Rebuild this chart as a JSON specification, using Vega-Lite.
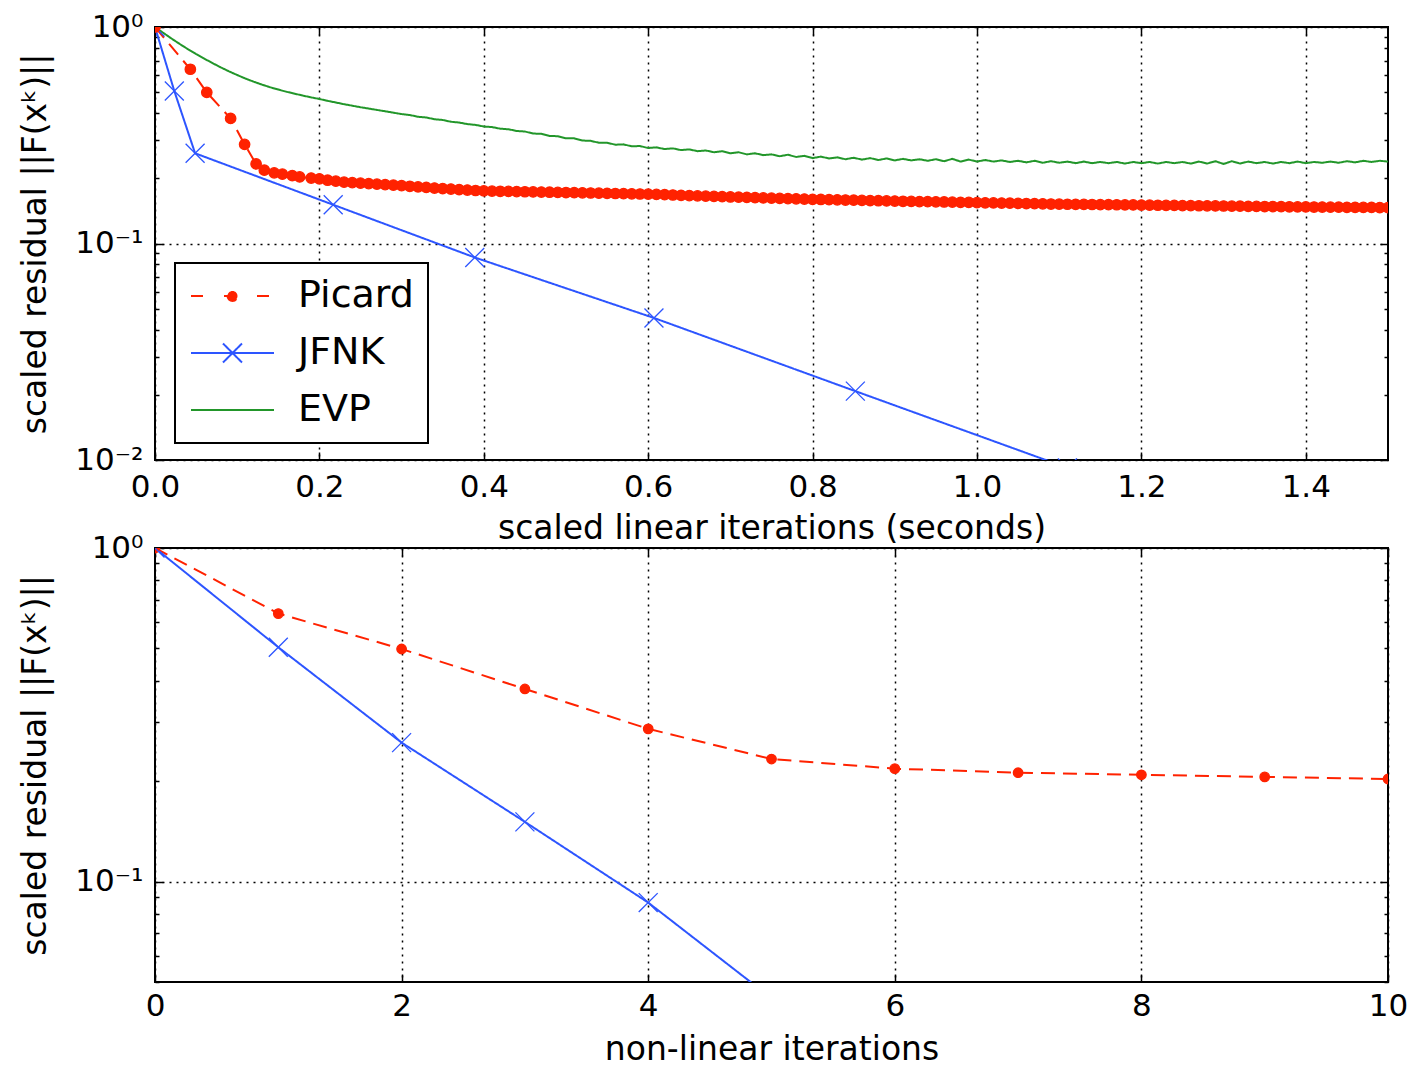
{
"$schema": "https://vega.github.io/schema/vega-lite/v6.json",
"padding": {"left": 18, "top": 10, "right": 2, "bottom": 2},
"background": "white",
"config": {
  "font": "DejaVu Sans",
  "view": {"stroke": "black", "strokeWidth": 2},
  "axis": {"domain": false, "labelColor": "black", "labelFontSize": 31, "labelFont": "DejaVu Sans", "titleFont": "DejaVu Sans", "titleFontSize": 33, "titleFontWeight": "normal", "titleColor": "black", "tickColor": "black", "tickWidth": 1.5, "gridColor": "black", "gridDash": [2, 5], "gridWidth": 1.5, "labelOverlap": false, "labelFlush": false}
},
"datasets": {
"top": [
{"s":"EVP","x":0,"y":1},{"s":"EVP","x":0.01,"y":0.94},{"s":"EVP","x":0.02,"y":0.885},{"s":"EVP","x":0.03,"y":0.835},{"s":"EVP","x":0.04,"y":0.79},{"s":"EVP","x":0.05,"y":0.75},{"s":"EVP","x":0.06,"y":0.714},{"s":"EVP","x":0.07,"y":0.681},{"s":"EVP","x":0.08,"y":0.651},{"s":"EVP","x":0.09,"y":0.624},
{"s":"EVP","x":0.1,"y":0.6},{"s":"EVP","x":0.11,"y":0.578},{"s":"EVP","x":0.12,"y":0.559},{"s":"EVP","x":0.13,"y":0.542},{"s":"EVP","x":0.14,"y":0.527},{"s":"EVP","x":0.15,"y":0.514},{"s":"EVP","x":0.16,"y":0.502},{"s":"EVP","x":0.17,"y":0.492},{"s":"EVP","x":0.18,"y":0.482},{"s":"EVP","x":0.19,"y":0.473},
{"s":"EVP","x":0.2,"y":0.465},{"s":"EVP","x":0.21,"y":0.456},{"s":"EVP","x":0.22,"y":0.448},{"s":"EVP","x":0.23,"y":0.44},{"s":"EVP","x":0.24,"y":0.433},{"s":"EVP","x":0.25,"y":0.426},{"s":"EVP","x":0.26,"y":0.42},{"s":"EVP","x":0.27,"y":0.414},{"s":"EVP","x":0.28,"y":0.408},{"s":"EVP","x":0.29,"y":0.402},
{"s":"EVP","x":0.3,"y":0.396},{"s":"EVP","x":0.31,"y":0.392},{"s":"EVP","x":0.32,"y":0.385},{"s":"EVP","x":0.33,"y":0.382},{"s":"EVP","x":0.34,"y":0.375},{"s":"EVP","x":0.35,"y":0.372},{"s":"EVP","x":0.36,"y":0.365},{"s":"EVP","x":0.37,"y":0.362},{"s":"EVP","x":0.38,"y":0.356},{"s":"EVP","x":0.39,"y":0.353},
{"s":"EVP","x":0.4,"y":0.347},{"s":"EVP","x":0.41,"y":0.345},{"s":"EVP","x":0.42,"y":0.339},{"s":"EVP","x":0.43,"y":0.337},{"s":"EVP","x":0.44,"y":0.331},{"s":"EVP","x":0.45,"y":0.329},{"s":"EVP","x":0.46,"y":0.322},{"s":"EVP","x":0.47,"y":0.321},{"s":"EVP","x":0.48,"y":0.314},{"s":"EVP","x":0.49,"y":0.313},
{"s":"EVP","x":0.5,"y":0.306},{"s":"EVP","x":0.51,"y":0.306},{"s":"EVP","x":0.52,"y":0.299},{"s":"EVP","x":0.53,"y":0.298},{"s":"EVP","x":0.54,"y":0.292},{"s":"EVP","x":0.55,"y":0.292},{"s":"EVP","x":0.56,"y":0.286},{"s":"EVP","x":0.57,"y":0.287},{"s":"EVP","x":0.58,"y":0.281},{"s":"EVP","x":0.59,"y":0.282},
{"s":"EVP","x":0.6,"y":0.276},{"s":"EVP","x":0.61,"y":0.278},{"s":"EVP","x":0.62,"y":0.273},{"s":"EVP","x":0.63,"y":0.275},{"s":"EVP","x":0.64,"y":0.27},{"s":"EVP","x":0.65,"y":0.272},{"s":"EVP","x":0.66,"y":0.267},{"s":"EVP","x":0.67,"y":0.269},{"s":"EVP","x":0.68,"y":0.264},{"s":"EVP","x":0.69,"y":0.267},
{"s":"EVP","x":0.7,"y":0.261},{"s":"EVP","x":0.71,"y":0.264},{"s":"EVP","x":0.72,"y":0.258},{"s":"EVP","x":0.73,"y":0.261},{"s":"EVP","x":0.74,"y":0.256},{"s":"EVP","x":0.75,"y":0.258},{"s":"EVP","x":0.76,"y":0.253},{"s":"EVP","x":0.77,"y":0.257},{"s":"EVP","x":0.78,"y":0.251},{"s":"EVP","x":0.79,"y":0.254},
{"s":"EVP","x":0.8,"y":0.248},{"s":"EVP","x":0.81,"y":0.252},{"s":"EVP","x":0.82,"y":0.247},{"s":"EVP","x":0.83,"y":0.25},{"s":"EVP","x":0.84,"y":0.245},{"s":"EVP","x":0.85,"y":0.249},{"s":"EVP","x":0.86,"y":0.244},{"s":"EVP","x":0.87,"y":0.248},{"s":"EVP","x":0.88,"y":0.243},{"s":"EVP","x":0.89,"y":0.247},
{"s":"EVP","x":0.9,"y":0.242},{"s":"EVP","x":0.91,"y":0.246},{"s":"EVP","x":0.92,"y":0.242},{"s":"EVP","x":0.93,"y":0.245},{"s":"EVP","x":0.94,"y":0.241},{"s":"EVP","x":0.95,"y":0.245},{"s":"EVP","x":0.96,"y":0.24},{"s":"EVP","x":0.97,"y":0.246},{"s":"EVP","x":0.98,"y":0.239},{"s":"EVP","x":0.99,"y":0.244},
{"s":"EVP","x":1.0,"y":0.239},{"s":"EVP","x":1.01,"y":0.243},{"s":"EVP","x":1.02,"y":0.239},{"s":"EVP","x":1.03,"y":0.242},{"s":"EVP","x":1.04,"y":0.238},{"s":"EVP","x":1.05,"y":0.241},{"s":"EVP","x":1.06,"y":0.237},{"s":"EVP","x":1.07,"y":0.241},{"s":"EVP","x":1.08,"y":0.236},{"s":"EVP","x":1.09,"y":0.24},
{"s":"EVP","x":1.1,"y":0.236},{"s":"EVP","x":1.11,"y":0.239},{"s":"EVP","x":1.12,"y":0.235},{"s":"EVP","x":1.13,"y":0.239},{"s":"EVP","x":1.14,"y":0.235},{"s":"EVP","x":1.15,"y":0.238},{"s":"EVP","x":1.16,"y":0.235},{"s":"EVP","x":1.17,"y":0.238},{"s":"EVP","x":1.18,"y":0.234},{"s":"EVP","x":1.19,"y":0.238},
{"s":"EVP","x":1.2,"y":0.235},{"s":"EVP","x":1.21,"y":0.238},{"s":"EVP","x":1.22,"y":0.234},{"s":"EVP","x":1.23,"y":0.238},{"s":"EVP","x":1.24,"y":0.235},{"s":"EVP","x":1.25,"y":0.238},{"s":"EVP","x":1.26,"y":0.234},{"s":"EVP","x":1.27,"y":0.239},{"s":"EVP","x":1.28,"y":0.234},{"s":"EVP","x":1.29,"y":0.24},
{"s":"EVP","x":1.3,"y":0.233},{"s":"EVP","x":1.31,"y":0.24},{"s":"EVP","x":1.32,"y":0.234},{"s":"EVP","x":1.33,"y":0.239},{"s":"EVP","x":1.34,"y":0.235},{"s":"EVP","x":1.35,"y":0.238},{"s":"EVP","x":1.36,"y":0.234},{"s":"EVP","x":1.37,"y":0.238},{"s":"EVP","x":1.38,"y":0.235},{"s":"EVP","x":1.39,"y":0.239},
{"s":"EVP","x":1.4,"y":0.235},{"s":"EVP","x":1.41,"y":0.238},{"s":"EVP","x":1.42,"y":0.236},{"s":"EVP","x":1.43,"y":0.239},{"s":"EVP","x":1.44,"y":0.236},{"s":"EVP","x":1.45,"y":0.24},{"s":"EVP","x":1.46,"y":0.237},{"s":"EVP","x":1.47,"y":0.241},{"s":"EVP","x":1.48,"y":0.238},{"s":"EVP","x":1.49,"y":0.241},{"s":"EVP","x":1.5,"y":0.239},
{"s":"JFNK","x":0,"y":1},{"s":"JFNK","x":0.0235,"y":0.506},{"s":"JFNK","x":0.0488,"y":0.261},{"s":"JFNK","x":0.2168,"y":0.151},{"s":"JFNK","x":0.389,"y":0.0862},{"s":"JFNK","x":0.607,"y":0.0453},{"s":"JFNK","x":0.852,"y":0.0208},{"s":"JFNK","x":1.11,"y":0.0092},
{"s":"Picard","x":0,"y":1},{"s":"Picard","x":0.043,"y":0.638},{"s":"Picard","x":0.063,"y":0.499},{"s":"Picard","x":0.092,"y":0.378},{"s":"Picard","x":0.109,"y":0.287},{"s":"Picard","x":0.123,"y":0.233},{"s":"Picard","x":0.133,"y":0.218},{"s":"Picard","x":0.145,"y":0.212},{"s":"Picard","x":0.155,"y":0.209},{"s":"Picard","x":0.167,"y":0.206},{"s":"Picard","x":0.176,"y":0.203},
{"s":"Picard","x":0.19,"y":0.2005},{"s":"Picard","x":0.2,"y":0.199},{"s":"Picard","x":0.21,"y":0.196},{"s":"Picard","x":0.22,"y":0.194},{"s":"Picard","x":0.23,"y":0.192},{"s":"Picard","x":0.24,"y":0.191},{"s":"Picard","x":0.25,"y":0.19},{"s":"Picard","x":0.26,"y":0.189},{"s":"Picard","x":0.27,"y":0.188},{"s":"Picard","x":0.28,"y":0.187},{"s":"Picard","x":0.29,"y":0.186},
{"s":"Picard","x":0.3,"y":0.185},{"s":"Picard","x":0.31,"y":0.1838},{"s":"Picard","x":0.32,"y":0.1826},{"s":"Picard","x":0.33,"y":0.1815},{"s":"Picard","x":0.34,"y":0.1804},{"s":"Picard","x":0.35,"y":0.1794},{"s":"Picard","x":0.36,"y":0.1784},{"s":"Picard","x":0.37,"y":0.1775},{"s":"Picard","x":0.38,"y":0.1766},{"s":"Picard","x":0.39,"y":0.1757},
{"s":"Picard","x":0.4,"y":0.175},{"s":"Picard","x":0.41,"y":0.1746},{"s":"Picard","x":0.42,"y":0.1743},{"s":"Picard","x":0.43,"y":0.174},{"s":"Picard","x":0.44,"y":0.1737},{"s":"Picard","x":0.45,"y":0.1734},{"s":"Picard","x":0.46,"y":0.1731},{"s":"Picard","x":0.47,"y":0.1728},{"s":"Picard","x":0.48,"y":0.1725},{"s":"Picard","x":0.49,"y":0.1722},
{"s":"Picard","x":0.5,"y":0.172},{"s":"Picard","x":0.51,"y":0.1717},{"s":"Picard","x":0.52,"y":0.1714},{"s":"Picard","x":0.53,"y":0.1711},{"s":"Picard","x":0.54,"y":0.1708},{"s":"Picard","x":0.55,"y":0.1705},{"s":"Picard","x":0.56,"y":0.1702},{"s":"Picard","x":0.57,"y":0.1699},{"s":"Picard","x":0.58,"y":0.1696},{"s":"Picard","x":0.59,"y":0.1693},
{"s":"Picard","x":0.6,"y":0.169},{"s":"Picard","x":0.61,"y":0.1685},{"s":"Picard","x":0.62,"y":0.168},{"s":"Picard","x":0.63,"y":0.1675},{"s":"Picard","x":0.64,"y":0.167},{"s":"Picard","x":0.65,"y":0.1665},{"s":"Picard","x":0.66,"y":0.166},{"s":"Picard","x":0.67,"y":0.1655},{"s":"Picard","x":0.68,"y":0.165},{"s":"Picard","x":0.69,"y":0.1645},
{"s":"Picard","x":0.7,"y":0.164},{"s":"Picard","x":0.71,"y":0.1636},{"s":"Picard","x":0.72,"y":0.1632},{"s":"Picard","x":0.73,"y":0.1628},{"s":"Picard","x":0.74,"y":0.1624},{"s":"Picard","x":0.75,"y":0.162},{"s":"Picard","x":0.76,"y":0.1616},{"s":"Picard","x":0.77,"y":0.1612},{"s":"Picard","x":0.78,"y":0.1608},{"s":"Picard","x":0.79,"y":0.1604},
{"s":"Picard","x":0.8,"y":0.16},{"s":"Picard","x":0.81,"y":0.1597},{"s":"Picard","x":0.82,"y":0.1594},{"s":"Picard","x":0.83,"y":0.1591},{"s":"Picard","x":0.84,"y":0.1588},{"s":"Picard","x":0.85,"y":0.1585},{"s":"Picard","x":0.86,"y":0.1582},{"s":"Picard","x":0.87,"y":0.1579},{"s":"Picard","x":0.88,"y":0.1576},{"s":"Picard","x":0.89,"y":0.1573},
{"s":"Picard","x":0.9,"y":0.157},{"s":"Picard","x":0.91,"y":0.1567},{"s":"Picard","x":0.92,"y":0.1565},{"s":"Picard","x":0.93,"y":0.1562},{"s":"Picard","x":0.94,"y":0.156},{"s":"Picard","x":0.95,"y":0.1558},{"s":"Picard","x":0.96,"y":0.1555},{"s":"Picard","x":0.97,"y":0.1553},{"s":"Picard","x":0.98,"y":0.155},{"s":"Picard","x":0.99,"y":0.1548},
{"s":"Picard","x":1.0,"y":0.1545},{"s":"Picard","x":1.01,"y":0.1542},{"s":"Picard","x":1.02,"y":0.154},{"s":"Picard","x":1.03,"y":0.1537},{"s":"Picard","x":1.04,"y":0.1535},{"s":"Picard","x":1.05,"y":0.1532},{"s":"Picard","x":1.06,"y":0.153},{"s":"Picard","x":1.07,"y":0.1528},{"s":"Picard","x":1.08,"y":0.1525},{"s":"Picard","x":1.09,"y":0.1522},
{"s":"Picard","x":1.1,"y":0.152},{"s":"Picard","x":1.11,"y":0.1518},{"s":"Picard","x":1.12,"y":0.1517},{"s":"Picard","x":1.13,"y":0.1515},{"s":"Picard","x":1.14,"y":0.1514},{"s":"Picard","x":1.15,"y":0.1512},{"s":"Picard","x":1.16,"y":0.1511},{"s":"Picard","x":1.17,"y":0.151},{"s":"Picard","x":1.18,"y":0.1508},{"s":"Picard","x":1.19,"y":0.1507},
{"s":"Picard","x":1.2,"y":0.1505},{"s":"Picard","x":1.21,"y":0.1503},{"s":"Picard","x":1.22,"y":0.1502},{"s":"Picard","x":1.23,"y":0.15},{"s":"Picard","x":1.24,"y":0.1499},{"s":"Picard","x":1.25,"y":0.1497},{"s":"Picard","x":1.26,"y":0.1496},{"s":"Picard","x":1.27,"y":0.1494},{"s":"Picard","x":1.28,"y":0.1493},{"s":"Picard","x":1.29,"y":0.1491},
{"s":"Picard","x":1.3,"y":0.149},{"s":"Picard","x":1.31,"y":0.1488},{"s":"Picard","x":1.32,"y":0.1487},{"s":"Picard","x":1.33,"y":0.1485},{"s":"Picard","x":1.34,"y":0.1484},{"s":"Picard","x":1.35,"y":0.1482},{"s":"Picard","x":1.36,"y":0.1481},{"s":"Picard","x":1.37,"y":0.1479},{"s":"Picard","x":1.38,"y":0.1478},{"s":"Picard","x":1.39,"y":0.1476},
{"s":"Picard","x":1.4,"y":0.1475},{"s":"Picard","x":1.41,"y":0.1474},{"s":"Picard","x":1.42,"y":0.1473},{"s":"Picard","x":1.43,"y":0.1472},{"s":"Picard","x":1.44,"y":0.1471},{"s":"Picard","x":1.45,"y":0.147},{"s":"Picard","x":1.46,"y":0.1469},{"s":"Picard","x":1.47,"y":0.1468},{"s":"Picard","x":1.48,"y":0.1467},{"s":"Picard","x":1.49,"y":0.1466},{"s":"Picard","x":1.5,"y":0.1465}
],
"bottom": [
{"s":"Picard","x":0,"y":1},{"s":"Picard","x":1,"y":0.636},{"s":"Picard","x":2,"y":0.498},{"s":"Picard","x":3,"y":0.378},{"s":"Picard","x":4,"y":0.287},{"s":"Picard","x":5,"y":0.233},{"s":"Picard","x":6,"y":0.218},{"s":"Picard","x":7,"y":0.212},{"s":"Picard","x":8,"y":0.209},{"s":"Picard","x":9,"y":0.206},{"s":"Picard","x":10,"y":0.203},
{"s":"JFNK","x":0,"y":1},{"s":"JFNK","x":1,"y":0.504},{"s":"JFNK","x":2,"y":0.261},{"s":"JFNK","x":3,"y":0.151},{"s":"JFNK","x":4,"y":0.0865},{"s":"JFNK","x":5,"y":0.0447}
]
},
"spacing": 88,
"bounds": "flush",
"resolve": {"scale": {"color": "independent", "stroke": "independent", "fill": "independent", "shape": "independent", "strokeDash": "independent"}},
"vconcat": [
{
  "width": 1233, "height": 433,
  "data": {"name": "top"},
  "layer": [
    {
      "mark": {"type": "line", "clip": true, "strokeWidth": 2},
      "encoding": {
        "x": {"field": "x", "type": "quantitative", "scale": {"domain": [0, 1.5], "nice": false, "zero": false},
              "axis": {"orient": "bottom", "values": [0, 0.2, 0.4, 0.6, 0.8, 1, 1.2, 1.4], "format": ".1f", "title": "scaled linear iterations (seconds)", "grid": true, "tickSize": -8, "labelPadding": 20, "titlePadding": 10}},
        "y": {"field": "y", "type": "quantitative", "scale": {"type": "log", "domain": [0.01, 1], "nice": false},
              "axis": {"orient": "left", "values": [0.01,0.02,0.03,0.04,0.05,0.06,0.07,0.08,0.09,0.1,0.2,0.3,0.4,0.5,0.6,0.7,0.8,0.9,1],
                       "labelExpr": "datum.value == 1 ? '10⁰' : datum.value == 0.1 ? '10⁻¹' : datum.value == 0.01 ? '10⁻²' : ''",
                       "tickSize": {"condition": {"test": "datum.value == 1 || datum.value == 0.1 || datum.value == 0.01", "value": -8}, "value": -4},
                       "grid": true,
                       "gridOpacity": {"condition": {"test": "datum.value == 1 || datum.value == 0.1 || datum.value == 0.01", "value": 1}, "value": 0},
                       "labelPadding": 20, "title": "scaled residual ||F(xᵏ)||", "titlePadding": 22}},
        "color": {"field": "s", "type": "nominal", "sort": ["Picard", "JFNK", "EVP"], "scale": {"range": ["#ff2200", "#2d55ff", "#22962a"]},
                  "legend": {"title": null, "orient": "none", "legendX": 20, "legendY": 236, "direction": "vertical", "zindex": 1,
                             "fillColor": "white", "strokeColor": "black", "padding": 14, "rowPadding": 19,
                             "symbolType": "M-1.7,0L6.6,0", "symbolSize": 400, "symbolStrokeWidth": 2, "labelOffset": 71,
                             "labelFontSize": 38, "labelFont": "DejaVu Sans", "labelColor": "black",
                             "encode": {"legend": {"update": {"strokeWidth": {"value": 2}}},
                                        "symbols": {"update": {
                                          "shape": {"signal": "datum.value === 'Picard' ? 'M-1.7,0L6.6,0M1.95,0a0.5,0.5 0 1,0 1,0a0.5,0.5 0 1,0 -1,0Z' : datum.value === 'JFNK' ? 'M-1.7,0L6.6,0M1.5,-0.95L3.4,0.95M1.5,0.95L3.4,-0.95' : 'M-1.7,0L6.6,0'"},
                                          "fill": {"signal": "datum.value === 'Picard' ? '#ff2200' : 'transparent'"},
                                          "strokeDash": {"signal": "datum.value === 'Picard' ? [12, 21] : [1, 0]"}}}}}},
        "strokeDash": {"field": "s", "type": "nominal", "sort": ["Picard", "JFNK", "EVP"], "scale": {"range": [[14, 8], [1, 0], [1, 0]]}, "legend": null}
      }
    },
    {
      "transform": [{"filter": "datum.s != 'EVP'"}],
      "mark": {"type": "point", "clip": true, "filled": false, "size": 360, "strokeWidth": 1.3, "opacity": 1},
      "encoding": {
        "x": {"field": "x", "type": "quantitative", "axis": {"orient": "top", "values": [0, 0.2, 0.4, 0.6, 0.8, 1, 1.2, 1.4], "labels": false, "title": null, "grid": false, "tickSize": -8}},
        "y": {"field": "y", "type": "quantitative",
              "axis": {"orient": "right", "values": [0.01,0.02,0.03,0.04,0.05,0.06,0.07,0.08,0.09,0.1,0.2,0.3,0.4,0.5,0.6,0.7,0.8,0.9,1], "labels": false, "title": null, "grid": false,
                       "tickSize": {"condition": {"test": "datum.value == 1 || datum.value == 0.1 || datum.value == 0.01", "value": -8}, "value": -4}}},
        "shape": {"field": "s", "type": "nominal", "scale": {"domain": ["Picard", "JFNK", "EVP"], "range": ["M-0.55,0a0.55,0.55 0 1,0 1.1,0a0.55,0.55 0 1,0 -1.1,0Z", "M-1,-1L1,1M-1,1L1,-1", "M0,0"]}, "legend": null},
        "stroke": {"field": "s", "type": "nominal", "scale": {"domain": ["Picard", "JFNK", "EVP"], "range": ["#ff2200", "#2d55ff", "#22962a"]}, "legend": null},
        "fill": {"field": "s", "type": "nominal", "scale": {"domain": ["Picard", "JFNK", "EVP"], "range": ["#ff2200", "transparent", "transparent"]}, "legend": null}
      }
    }
  ],
  "resolve": {"axis": {"x": "independent", "y": "independent"}}
},
{
  "width": 1233, "height": 434,
  "data": {"name": "bottom"},
  "layer": [
    {
      "mark": {"type": "line", "clip": true, "strokeWidth": 2},
      "encoding": {
        "x": {"field": "x", "type": "quantitative", "scale": {"domain": [0, 10], "nice": false, "zero": false},
              "axis": {"orient": "bottom", "values": [0, 2, 4, 6, 8, 10], "format": "d", "title": "non-linear iterations", "grid": true, "tickSize": -8, "labelPadding": 17, "titlePadding": 12}},
        "y": {"field": "y", "type": "quantitative", "scale": {"type": "log", "domain": [0.05, 1], "nice": false},
              "axis": {"orient": "left", "values": [0.05,0.06,0.07,0.08,0.09,0.1,0.2,0.3,0.4,0.5,0.6,0.7,0.8,0.9,1],
                       "labelExpr": "datum.value == 1 ? '10⁰' : datum.value == 0.1 ? '10⁻¹' : ''",
                       "tickSize": {"condition": {"test": "datum.value == 1 || datum.value == 0.1", "value": -8}, "value": -4},
                       "grid": true,
                       "gridOpacity": {"condition": {"test": "datum.value == 1 || datum.value == 0.1", "value": 1}, "value": 0},
                       "labelPadding": 20, "title": "scaled residual ||F(xᵏ)||", "titlePadding": 22}},
        "color": {"field": "s", "type": "nominal", "sort": ["Picard", "JFNK", "EVP"], "scale": {"range": ["#ff2200", "#2d55ff", "#22962a"]}, "legend": null},
        "strokeDash": {"field": "s", "type": "nominal", "sort": ["Picard", "JFNK", "EVP"], "scale": {"range": [[14, 8], [1, 0], [1, 0]]}, "legend": null}
      }
    },
    {
      "mark": {"type": "point", "clip": true, "filled": false, "size": 360, "strokeWidth": 1.3, "opacity": 1},
      "encoding": {
        "x": {"field": "x", "type": "quantitative", "axis": {"orient": "top", "values": [0, 2, 4, 6, 8, 10], "labels": false, "title": null, "grid": false, "tickSize": -8}},
        "y": {"field": "y", "type": "quantitative",
              "axis": {"orient": "right", "values": [0.05,0.06,0.07,0.08,0.09,0.1,0.2,0.3,0.4,0.5,0.6,0.7,0.8,0.9,1], "labels": false, "title": null, "grid": false,
                       "tickSize": {"condition": {"test": "datum.value == 1 || datum.value == 0.1", "value": -8}, "value": -4}}},
        "shape": {"field": "s", "type": "nominal", "scale": {"domain": ["Picard", "JFNK", "EVP"], "range": ["M-0.5,0a0.5,0.5 0 1,0 1,0a0.5,0.5 0 1,0 -1,0Z", "M-1,-1L1,1M-1,1L1,-1", "M0,0"]}, "legend": null},
        "stroke": {"field": "s", "type": "nominal", "scale": {"domain": ["Picard", "JFNK", "EVP"], "range": ["#ff2200", "#2d55ff", "#22962a"]}, "legend": null},
        "fill": {"field": "s", "type": "nominal", "scale": {"domain": ["Picard", "JFNK", "EVP"], "range": ["#ff2200", "transparent", "transparent"]}, "legend": null}
      }
    }
  ],
  "resolve": {"axis": {"x": "independent", "y": "independent"}}
}
]
}
